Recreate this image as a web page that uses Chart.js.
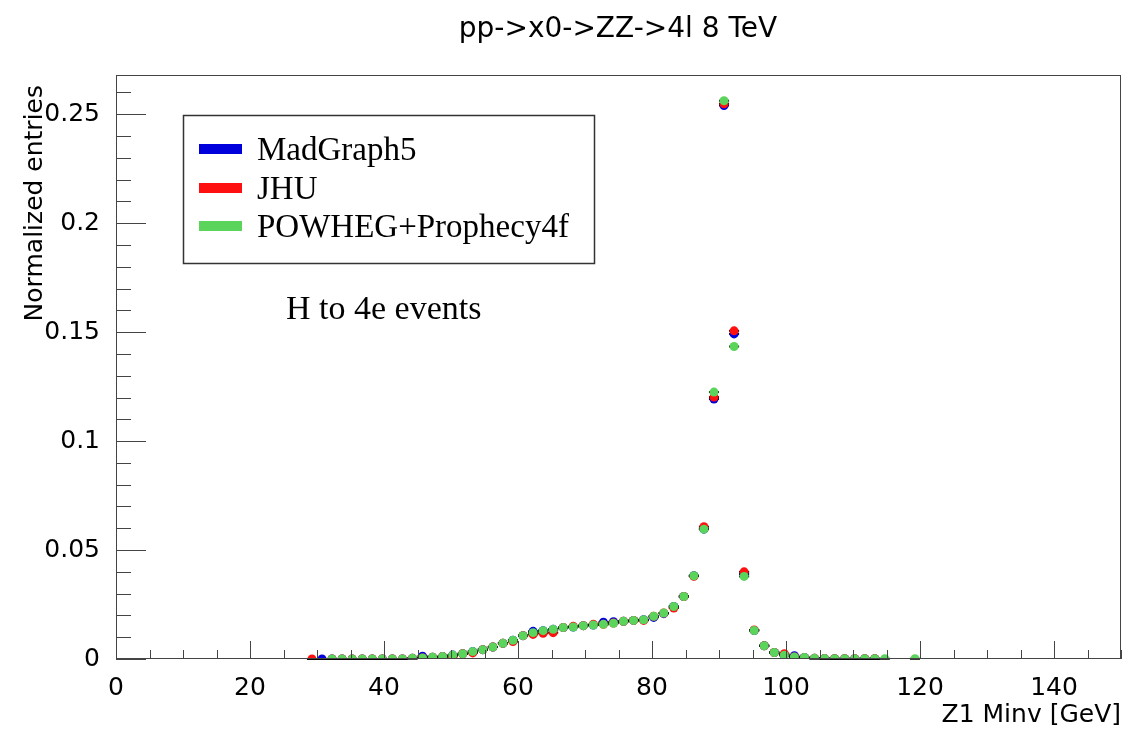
<!DOCTYPE html>
<html>
<head>
<meta charset="utf-8">
<script src="https://cdn.jsdelivr.net/npm/chart.js@4"></script>
<style>
  body { margin: 0; background: #fff; }
  #wrap { width: 1129px; height: 731px; position: relative; }
</style>
</head>
<body>
<div id="wrap"><canvas id="z1Chart"></canvas></div>
<script>
// centros de bin (1.5 GeV)
const binCenters = [29.25, 30.75, 32.25, 33.75, 35.25, 36.75, 38.25, 39.75, 41.25, 42.75,
    44.25, 45.75, 47.25, 48.75, 50.25, 51.75, 53.25, 54.75, 56.25, 57.75,
    59.25, 60.75, 62.25, 63.75, 65.25, 66.75, 68.25, 69.75, 71.25, 72.75,
    74.25, 75.75, 77.25, 78.75, 80.25, 81.75, 83.25, 84.75, 86.25, 87.75,
    89.25, 90.75, 92.25, 93.75, 95.25, 96.75, 98.25, 99.75, 101.25, 102.75,
    104.25, 105.75, 107.25, 108.75, 110.25, 111.75, 113.25, 114.75, 116.25, 117.75,
    119.25];

const madgraph = [null, 0, 0, 0, 0, 0, 0, 0, 0, 0,
    0.0003, 0.0013, 0.0008, 0.0011, 0.0018, 0.0024, 0.0034, 0.0043, 0.0055, 0.0072,
    0.0086, 0.0107, 0.0127, 0.0130, 0.0136, 0.0144, 0.0147, 0.0153, 0.0156, 0.0169,
    0.0171, 0.0173, 0.0177, 0.0180, 0.0191, 0.0208, 0.0241, 0.0287, 0.0382, 0.0596,
    0.1193, 0.2540, 0.1492, 0.0390, 0.0131, 0.0061, 0.0030, 0.0017, 0.0015, 0.0007,
    0.0003, 0.0002, 0.0001, 0.0001, 0.0001, 0.0001, 0.0001, null, null, null,
    null];

const jhu = [0, null, 0, 0, 0, 0, 0, 0, 0, 0,
    0.0003, 0.0005, 0.0008, 0.0011, 0.0012, 0.0024, 0.0028, 0.0043, 0.0055, 0.0072,
    0.0080, 0.0107, 0.0113, 0.0118, 0.0121, 0.0144, 0.0150, 0.0153, 0.0159, 0.0159,
    0.0165, 0.0173, 0.0177, 0.0177, 0.0196, 0.0211, 0.0234, 0.0287, 0.0380, 0.0607,
    0.1202, 0.2548, 0.1506, 0.0400, 0.0133, 0.0061, 0.0030, 0.0024, 0.0009, 0.0006,
    0.0003, 0.0002, 0.0001, 0.0001, 0.0001, 0.0001, 0.0001, null, null, null,
    null];

const powheg = [null, null, 0, 0, 0, 0, 0, 0, 0, 0,
    0.0003, 0.0005, 0.0008, 0.0011, 0.0018, 0.0024, 0.0034, 0.0043, 0.0055, 0.0072,
    0.0086, 0.0107, 0.0121, 0.0130, 0.0136, 0.0144, 0.0147, 0.0153, 0.0156, 0.0159,
    0.0164, 0.0173, 0.0177, 0.0180, 0.0196, 0.0211, 0.0241, 0.0287, 0.0382, 0.0596,
    0.1225, 0.2562, 0.1434, 0.0379, 0.0131, 0.0061, 0.0030, 0.0017, 0.0009, 0.0007,
    0.0003, 0.0002, 0.0001, 0.0001, 0.0001, 0.0001, 0.0001, 0.0001, null, null,
    0.0001];

const seriesNames = ['MadGraph5', 'JHU', 'POWHEG+Prophecy4f'];
const seriesColors = ['#0000dd', '#ff1010', '#5ad45a'];
const xTicks = [0, 20, 40, 60, 80, 100, 120, 140];
const yTicks = [0, 0.05, 0.1, 0.15, 0.2, 0.25];

const binHalf = 0.75;
const sansFont = '"DejaVu Sans", sans-serif';
const serifFont = '"Liberation Serif", serif';

function toPoints(values)
{
    const pts = [];
    values.forEach((v, i) =>
    {
        if (v !== null) pts.push({ x: binCenters[i], y: v });
    });
    return pts;
}

// barras de error horizontales estilo ROOT
const rootStyle = {
    id: 'rootStyle',
    beforeDatasetDraw(chart, args)
    {
        const ctx = chart.ctx;
        const xs = chart.scales.x, ys = chart.scales.y;
        ctx.save();
        ctx.strokeStyle = '#000';
        ctx.lineWidth = 2;
        chart.data.datasets[args.index].data.forEach((p) =>
        {
            const py = ys.getPixelForValue(p.y);
            ctx.beginPath();
            ctx.moveTo(xs.getPixelForValue(p.x - binHalf), py);
            ctx.lineTo(xs.getPixelForValue(p.x + binHalf), py);
            ctx.stroke();
        });
        ctx.restore();
    },
    afterDraw(chart)
    {
        const ctx = chart.ctx;
        const a = chart.chartArea;
        const xs = chart.scales.x, ys = chart.scales.y;
        ctx.save();

        // marco
        ctx.strokeStyle = '#444';
        ctx.lineWidth = 1;
        ctx.strokeRect(a.left + 0.5, a.top + 0.5, a.right - a.left - 1, a.bottom - a.top - 1);

        // ticks hacia dentro
        ctx.beginPath();
        for (let v = 0; v <= 150; v += 5)
        {
            const px = Math.round(xs.getPixelForValue(v)) + 0.5;
            const len = (v % 20 === 0) ? 18 : 9;
            ctx.moveTo(px, a.bottom);
            ctx.lineTo(px, a.bottom - len);
        }
        for (let i = 0; i <= 26; i++)
        {
            const py = Math.round(ys.getPixelForValue(i * 0.01)) + 0.5;
            const len = (i % 5 === 0) ? 30 : 15;
            ctx.moveTo(a.left, py);
            ctx.lineTo(a.left + len, py);
        }
        ctx.stroke();

        // titulos
        ctx.fillStyle = '#000';
        ctx.font = '28px ' + sansFont;
        ctx.textAlign = 'center';
        ctx.textBaseline = 'alphabetic';
        ctx.fillText('pp->x0->ZZ->4l 8 TeV', 618, 37);

        ctx.font = '25px ' + sansFont;
        ctx.textAlign = 'right';
        ctx.fillText('Z1 Minv [GeV]', a.right, 722);

        ctx.save();
        ctx.translate(42, a.top + 10);
        ctx.rotate(-Math.PI / 2);
        ctx.textAlign = 'right';
        ctx.fillText('Normalized entries', 0, 0);
        ctx.restore();

        // leyenda
        ctx.fillStyle = '#fff';
        ctx.fillRect(183, 115, 412, 149);
        ctx.strokeStyle = '#333';
        ctx.lineWidth = 1.5;
        ctx.strokeRect(183.5, 115.5, 411, 148);
        ctx.font = '33px ' + serifFont;
        ctx.textAlign = 'left';
        const rowsY = [149, 188, 226];
        seriesNames.forEach((name, i) =>
        {
            ctx.fillStyle = seriesColors[i];
            ctx.fillRect(199, rowsY[i] - 5, 43, 10);
            ctx.fillStyle = '#000';
            ctx.fillText(name, 257, rowsY[i] + 11);
        });

        ctx.font = '34px ' + serifFont;
        ctx.fillText('H to 4e events', 286, 319);

        ctx.restore();
    }
};

function buildChart()
{
    const ctx = document.getElementById('z1Chart').getContext('2d');

    const datasets = [madgraph, jhu, powheg].map((vals, i) => ({
        label: seriesNames[i],
        data: toPoints(vals),
        showLine: false,
        pointStyle: 'circle',
        pointRadius: 4.5,
        pointBorderWidth: 0,
        pointBackgroundColor: seriesColors[i],
        borderColor: seriesColors[i],
        order: 3 - i
    }));

    new Chart(ctx, {
        type: 'scatter',
        data: { datasets: datasets },
        options: {
            responsive: true,
            maintainAspectRatio: false,
            animation: false,
            layout: { padding: { top: 75, right: 8, left: 0, bottom: 0 } },
            plugins: {
                legend: { display: false },
                tooltip: { enabled: false }
            },
            scales: {
                x: {
                    type: 'linear',
                    min: 0,
                    max: 150,
                    grid: { display: false },
                    border: { display: false },
                    afterFit: (scale) => { scale.height = 72; },
                    afterBuildTicks: (scale) => { scale.ticks = xTicks.map((v) => ({ value: v })); },
                    ticks: {
                        padding: 6,
                        color: '#000',
                        font: { family: sansFont, size: 25 },
                        maxRotation: 0,
                        callback: (v) => String(v)
                    }
                },
                y: {
                    type: 'linear',
                    min: 0,
                    max: 0.268,
                    grid: { display: false },
                    border: { display: false },
                    afterFit: (scale) => { scale.width = 116; },
                    afterBuildTicks: (scale) => { scale.ticks = yTicks.map((v) => ({ value: v })); },
                    ticks: {
                        padding: 8,
                        color: '#000',
                        font: { family: sansFont, size: 25 },
                        callback: (v) => String(v)
                    }
                }
            }
        },
        plugins: [rootStyle]
    });
}

buildChart();
</script>
</body>
</html>
